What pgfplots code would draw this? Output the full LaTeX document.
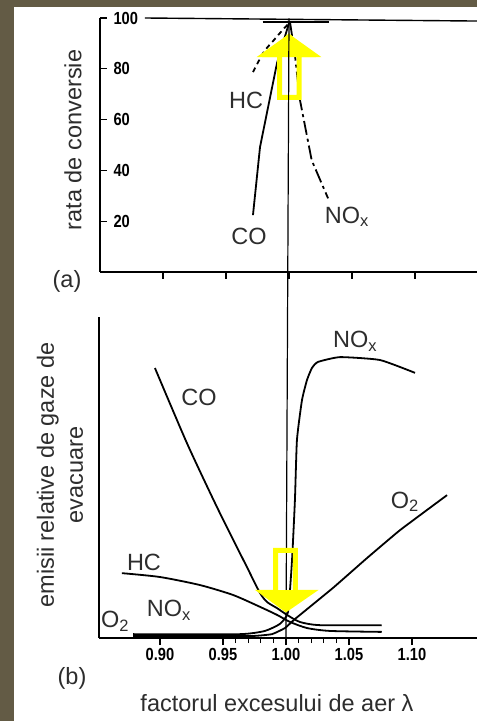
\documentclass[border=0pt]{standalone}
\usepackage{pgfplots}
\pgfplotsset{compat=1.18}
\usepackage{fontspec}
\setmainfont{Liberation Sans}
\newfontfamily\tickfont[FakeStretch=0.84]{Liberation Sans}
\definecolor{framecol}{RGB}{99,91,69}
\definecolor{txt}{RGB}{45,45,45}
\definecolor{arrowy}{RGB}{255,255,0}

\newcommand{\lbl}{\fontsize{23.5}{29}\selectfont\color{txt}}

\pgfplotsset{
  panel/.style={
    scale only axis,
    clip=false,
    axis x line=bottom,
    axis y line=left,
    axis line style={-, line width=1.4pt},
    tick style={black, line width=1.3pt},
    major tick length=7pt,
    minor tick length=5pt,
    tick align=outside,
    /pgf/number format/assume math mode=true,
    ticklabel style={font=\tickfont\bfseries\fontsize{17.5}{17.5}\selectfont},
  },
  curve/.style={black, line width=1.8pt, no marks},
}

\begin{document}
\begin{tikzpicture}
\path[use as bounding box] (0,0) rectangle (477pt,721pt);
\fill[framecol] (0,0) rectangle (477pt,721pt);
\fill[white] (14pt,0) rectangle (477pt,714pt);

% (a) conversion rate
\begin{axis}[panel,
  at={(100pt,449pt)}, anchor=south west,
  width=377pt, height=254pt,
  xmin=0.85, xmax=1.1492, ymin=0, ymax=100,
  xtick={0.90,0.95,1.00,1.05,1.10}, xticklabels={},
  ytick={20,40,60,80,100},
  ytick style={xshift=7pt},
  yticklabel style={anchor=west, xshift=17pt},
]
\addplot[curve, line width=1.4pt] coordinates {(0.8857,100) (1.1492,98.8)};
\addplot[curve, line width=2pt] coordinates {(0.979,98.5) (1.032,98.5)};
% HC
\addplot[curve, dash pattern=on 5pt off 4pt, smooth] coordinates {
  (0.9714,78.7) (0.980,86.6) (0.988,91.3) (0.995,95.3) (1.0008,98.4)};
% CO
\addplot[curve] coordinates {
  (0.9714,22.4) (0.977,49.2) (0.9905,82.3) (1.0,98.0)};
% NOx
\addplot[curve, dash pattern=on 14pt off 4pt on 3pt off 4pt] coordinates {
  (1.0008,98.4) (1.0048,85) (1.0087,67.7) (1.018,44) (1.031,29)};
% arrow
\fill[arrowy] (axis cs:0.9786,84.6) -- (axis cs:1.0,94) -- (axis cs:1.0214,84.6) -- cycle;
\draw[arrowy, line width=5pt, miter limit=10]
  (axis cs:0.9925,68.7) -- (axis cs:0.9925,85.6) -- (axis cs:0.9805,85.6)
  -- (axis cs:1.0,92.5) -- (axis cs:1.0195,85.6) -- (axis cs:1.0080,85.6)
  -- (axis cs:1.0080,68.7) -- cycle;
\node[font=\lbl] at (axis cs:0.9659,67.7) {HC};
\node[font=\lbl] at (axis cs:0.9683,14.2) {CO};
\node[font=\lbl] at (axis cs:1.046,21.7) {NO\textsubscript{x}};
\end{axis}

% (b) relative emissions
\begin{axis}[panel,
  at={(99pt,83pt)}, anchor=south west,
  width=378pt, height=321pt,
  xmin=0.8516, xmax=1.1516, ymin=0, ymax=100,
  xtick={0.90,0.95,1.00,1.05,1.10},
  xticklabels={0.90,0.95,1.00,1.05,1.10},
  minor xtick={0.96,0.97,0.98,0.99,1.01,1.02,1.03,1.04},
  ytick=\empty,
]
\addplot[curve, line width=1.2pt] coordinates {(1.0,0) (1.0024,193)};
% CO
\addplot[curve, smooth, tension=0.4] coordinates {
  (0.896,84.1) (0.9214,60.7) (0.9452,40.8) (0.969,22.1) (0.9794,14.0)
  (0.985,11.2) (0.9929,9.3) (1.0008,7.2) (1.011,5.0) (1.027,4.0) (1.076,4.0)};
% HC
\addplot[curve, smooth, tension=0.4] coordinates {
  (0.8698,20.2) (0.9,19.0) (0.9317,16.5) (0.958,13.4) (0.9794,9.7)
  (0.9929,7.2) (1.0032,5.0) (1.0167,3.1) (1.0349,2.2) (1.076,1.9)};
% NOx
\addplot[curve, smooth, tension=0.3] coordinates {
  (0.8786,1.2) (0.9635,1.2) (0.9833,2.2) (0.9952,4.4) (1.0016,8.1)
  (1.0048,24.3) (1.0071,43) (1.0087,61.7) (1.0127,74.1) (1.0167,80.4)
  (1.0206,84.1) (1.0254,86) (1.0429,87.5) (1.0746,86.6) (1.1024,82.6)};
% O2
\addplot[curve, smooth, tension=0.2] coordinates {
  (0.8786,0.6) (0.9714,0.6) (0.9889,1.2) (0.9992,3.1) (1.0071,5.9)
  (1.0373,15.6) (1.0643,24.9) (1.0905,33.6) (1.1278,44.5)};
% arrow
\fill[arrowy] (axis cs:0.9794,14.95) -- (axis cs:1.0,8.1) -- (axis cs:1.0214,14.95) -- cycle;
\draw[arrowy, line width=5pt, miter limit=10]
  (axis cs:0.9917,27.3) -- (axis cs:0.9917,14.2) -- (axis cs:0.9815,14.2)
  -- (axis cs:1.0,8.9) -- (axis cs:1.0195,14.2) -- (axis cs:1.0075,14.2)
  -- (axis cs:1.0075,27.3) -- cycle;
\node[font=\lbl] at (axis cs:1.0548,92.5) {NO\textsubscript{x}};
\node[font=\lbl] at (axis cs:0.931,75.1) {CO};
\node[font=\lbl] at (axis cs:1.0944,42.4) {O\textsubscript{2}};
\node[font=\lbl] at (axis cs:0.8873,23.4) {HC};
\node[font=\lbl] at (axis cs:0.9071,8.7) {NO\textsubscript{x}};
\node[font=\lbl] at (axis cs:0.8643,5.3) {O\textsubscript{2}};
\end{axis}

\node[font=\lbl, rotate=90] at (73pt,581pt) {rata de conversie};
\node[font=\lbl, rotate=90, align=center] at (60pt,246pt) {emisii relative de gaze de\\evacuare};
\node[font=\lbl] at (67pt,440pt) {(a)};
\node[font=\lbl] at (72pt,43pt) {(b)};
\node[font=\lbl] at (277pt,18pt) {factorul excesului de aer λ};
\end{tikzpicture}
\end{document}
